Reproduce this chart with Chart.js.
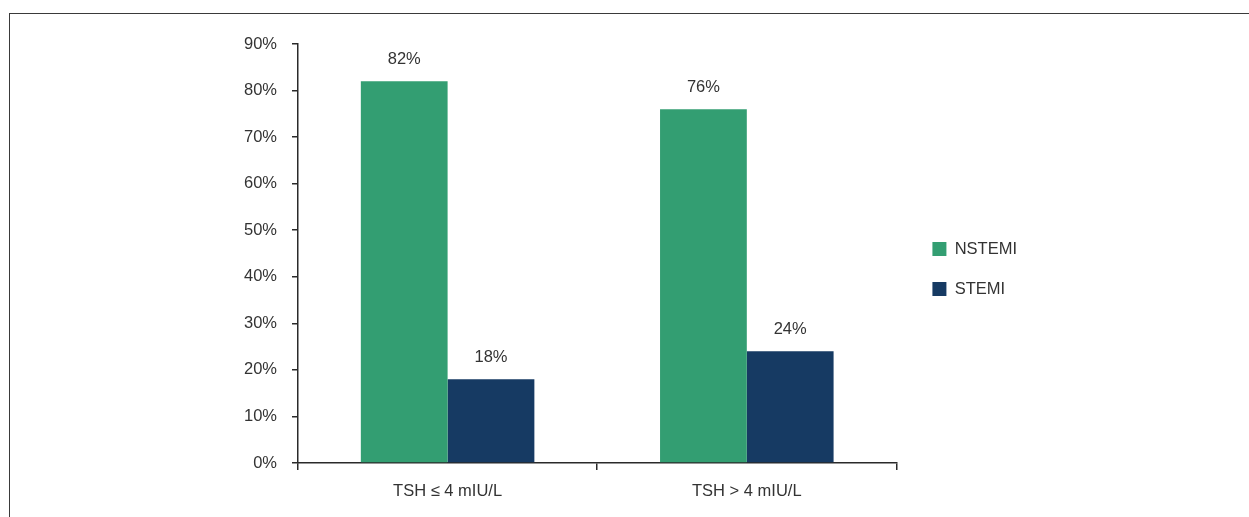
<!DOCTYPE html>
<html>
<head>
<meta charset="utf-8">
<script src="https://cdn.jsdelivr.net/npm/chart.js@4/dist/chart.umd.min.js"></script>
<style>
  html, body { margin: 0; padding: 0; background: #ffffff; overflow: hidden; }
  #wrap { position: relative; width: 1249px; height: 517px; }
  #frame { position: absolute; left: 9px; top: 13px; width: 1400px; height: 700px;
           border: 1.5px solid #3a3a3a; box-sizing: border-box; pointer-events: none; }
  canvas { position: absolute; left: 0; top: 0; }
</style>
</head>
<body>
<div id="wrap">
  <div id="frame"></div>
  <canvas id="chart" width="1249" height="517"></canvas>
</div>
<script>
// Share of NSTEMI vs STEMI by TSH level
const categories = ['TSH \u2264 4 mIU/L', 'TSH > 4 mIU/L'];
const seriesNames = ['NSTEMI', 'STEMI'];
const nstemiValues = [82, 76];
const stemiValues = [18, 24];
const yTicks = [0, 10, 20, 30, 40, 50, 60, 70, 80, 90];

const FONT = "'Liberation Sans Narrow', 'Arial Narrow', 'Liberation Sans', Arial, sans-serif";
const FONT_SIZE = 16.5;
const TEXT = '#333333';
const AXIS = '#2a2a2a';

// Percent labels above each bar
const valueLabels = {
  id: 'valueLabels',
  afterDatasetsDraw(chart) {
    const ctx = chart.ctx;
    ctx.save();
    ctx.font = FONT_SIZE + 'px ' + FONT;
    ctx.fillStyle = TEXT;
    ctx.textAlign = 'center';
    ctx.textBaseline = 'middle';
    chart.data.datasets.forEach((ds, i) => {
      chart.getDatasetMeta(i).data.forEach((bar, j) => {
        ctx.fillText(ds.data[j] + '%', bar.x, bar.y - 22);
      });
    });
    ctx.restore();
  }
};

new Chart(document.getElementById('chart'), {
  type: 'bar',
  data: {
    labels: categories,
    datasets: [
      { label: seriesNames[0], data: nstemiValues, backgroundColor: '#339e72' },
      { label: seriesNames[1], data: stemiValues, backgroundColor: '#163a63' }
    ]
  },
  options: {
    responsive: false,
    animation: false,
    devicePixelRatio: 1,
    categoryPercentage: 0.58,
    barPercentage: 1,
    layout: { padding: { top: 21, left: 0, right: 222, bottom: 0 } },
    plugins: {
      tooltip: { enabled: false },
      // empty title used as top spacing above the plot
      title: { display: true, text: '', font: { size: 10 }, padding: { top: 0, bottom: 11 } },
      legend: {
        position: 'right',
        labels: {
          boxWidth: 14,
          boxHeight: 14,
          padding: 23.5,
          color: TEXT,
          font: { family: FONT, size: FONT_SIZE }
        }
      }
    },
    scales: {
      x: {
        offset: true,
        grid: { display: true, offset: true, drawOnChartArea: false, drawTicks: true,
                tickLength: 7, color: AXIS, lineWidth: 1.5 },
        border: { display: true, color: AXIS, width: 1.5 },
        ticks: { color: TEXT, padding: 11.6, font: { family: FONT, size: FONT_SIZE }, maxRotation: 0 },
        afterFit(scale) { scale.height = 54; }
      },
      y: {
        min: 0,
        max: 90,
        afterBuildTicks(scale) { scale.ticks = yTicks.map(v => ({ value: v })); },
        grid: { display: true, drawOnChartArea: false, drawTicks: true,
                tickLength: 6, color: AXIS, lineWidth: 1.5 },
        border: { display: true, color: AXIS, width: 1.5 },
        ticks: { color: TEXT, padding: 15, font: { family: FONT, size: FONT_SIZE },
                 callback: v => v + '%' },
        afterFit(scale) { scale.width = 298; }
      },
      // keeps a narrow gap between the plot and the legend
      gap: {
        type: 'linear',
        position: 'right',
        display: true,
        grid: { display: false },
        border: { display: false },
        ticks: { display: false },
        afterFit(scale) { scale.width = 12.5; }
      }
    }
  },
  plugins: [valueLabels]
});
</script>
</body>
</html>
